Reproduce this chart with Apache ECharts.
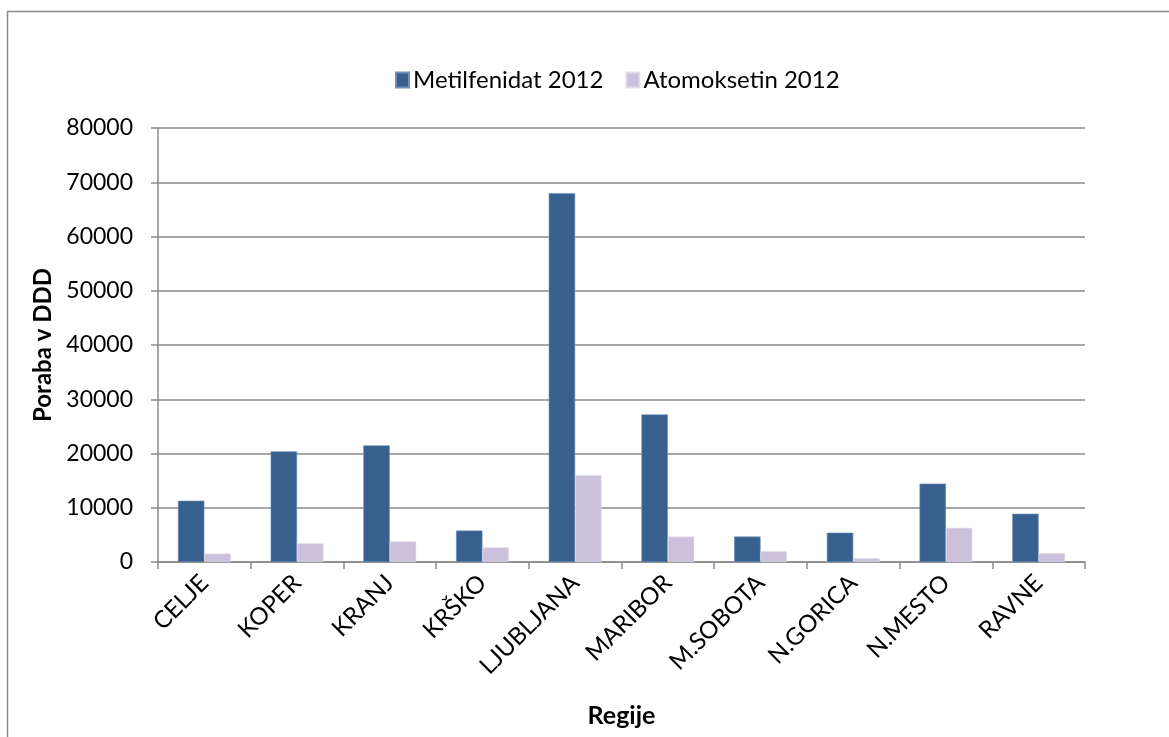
<!DOCTYPE html>
<html>
<head>
<meta charset="utf-8">
<script src="https://cdn.jsdelivr.net/npm/echarts@6/dist/echarts.min.js"></script>
<style>
  html, body { margin: 0; padding: 0; background: #fff; }
  #chart { width: 1169px; height: 737px; }
</style>
</head>
<body>
<div id="chart"></div>
<script>
// Regions and yearly consumption (DDD) per drug
const regions = ['CELJE', 'KOPER', 'KRANJ', 'KRŠKO', 'LJUBLJANA', 'MARIBOR', 'M.SOBOTA', 'N.GORICA', 'N.MESTO', 'RAVNE'];
const metilfenidat2012 = [11300, 20400, 21500, 5800, 68000, 27200, 4700, 5400, 14450, 8900];
const atomoksetin2012 = [1550, 3450, 3800, 2700, 16000, 4700, 2000, 700, 6300, 1650];
const seriesNames = ['Metilfenidat 2012', 'Atomoksetin 2012'];
const yTicks = { min: 0, max: 80000, interval: 10000 };

const FONT = 'Lato, "Open Sans", sans-serif';
const GRID_COLOR = '#8a8a8a';

const chart = echarts.init(document.getElementById('chart'), null, { renderer: 'canvas' });

chart.setOption({
  backgroundColor: '#ffffff',
  animation: false,
  textStyle: { fontFamily: FONT, color: '#000' },
  graphic: [{
    type: 'rect',
    shape: { x: 7.5, y: 11.5, width: 1200, height: 800 },
    style: { fill: 'none', stroke: '#8c8c8c', lineWidth: 1.5 },
    silent: true,
    z: -1
  }],
  legend: {
    data: seriesNames,
    left: 390,
    top: 63,
    itemWidth: 13,
    itemHeight: 15,
    itemGap: 22,
    icon: 'rect',
    textStyle: { fontFamily: FONT, fontSize: 24, color: '#000', padding: [0, 0, 0, -1] }
  },
  grid: { left: 158, right: 84, top: 128, bottom: 175, containLabel: false },
  xAxis: {
    type: 'category',
    data: regions,
    name: 'Regije',
    nameLocation: 'middle',
    nameGap: 141,
    nameTextStyle: { fontFamily: FONT, fontSize: 25, fontWeight: 'bold', color: '#000' },
    axisLine: { lineStyle: { color: GRID_COLOR, width: 1.5 } },
    axisTick: { show: true, length: 7, alignWithLabel: false, lineStyle: { color: GRID_COLOR, width: 1.5 } },
    axisLabel: { rotate: 45, margin: 17, fontFamily: FONT, fontSize: 24, color: '#000', interval: 0 },
    splitLine: { show: false }
  },
  yAxis: {
    type: 'value',
    min: yTicks.min,
    max: yTicks.max,
    interval: yTicks.interval,
    name: 'Poraba v DDD',
    nameLocation: 'middle',
    nameGap: 103,
    nameTextStyle: { fontFamily: FONT, fontSize: 24, fontWeight: 'bold', color: '#000' },
    axisLine: { show: true, lineStyle: { color: GRID_COLOR, width: 1.5 } },
    axisTick: { show: true, length: 7, lineStyle: { color: GRID_COLOR, width: 1.5 } },
    axisLabel: { margin: 25, fontFamily: FONT, fontSize: 23, color: '#000', formatter: function (v) { return String(v); } },
    splitLine: { show: true, lineStyle: { color: GRID_COLOR, width: 1.5 } }
  },
  series: [
    {
      name: seriesNames[0],
      type: 'bar',
      data: metilfenidat2012,
      barGap: '0%',
      barCategoryGap: '43%',
      itemStyle: { color: '#37608f', borderColor: '#6f8fb8', borderWidth: 0.6 }
    },
    {
      name: seriesNames[1],
      type: 'bar',
      data: atomoksetin2012,
      itemStyle: { color: '#ccc1da', borderColor: '#e2dbea', borderWidth: 0.6 }
    }
  ]
});
</script>
</body>
</html>
